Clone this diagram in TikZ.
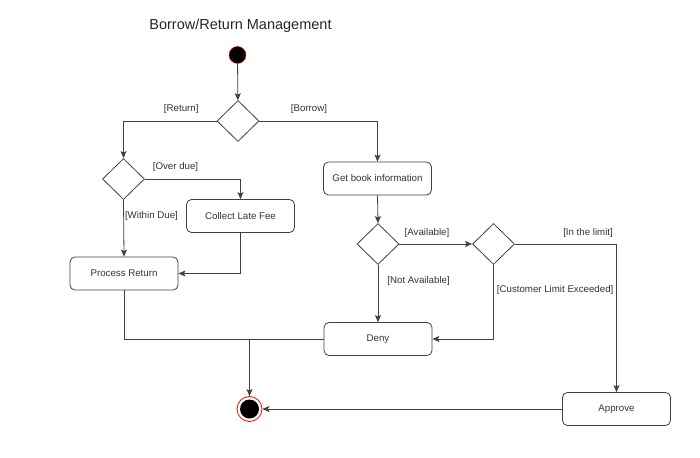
\documentclass[tikz,border=0pt]{standalone}
\usepackage{fontspec}
\setmainfont{Liberation Sans}
\usetikzlibrary{shapes.geometric,arrows.meta}
\tikzset{
  act/.style={draw=black!75, line width=0.8pt, rounded corners=5pt, minimum width=108pt, minimum height=33pt, font=\fontsize{9.7}{12}\selectfont, text=black!80},
  dec/.style={draw=black!75, line width=0.8pt, diamond, inner sep=0pt, minimum width=42pt, minimum height=41pt},
  guard/.style={font=\fontsize{9.7}{12}\selectfont, text=black!80, inner sep=1pt},
  flow/.style={draw=black!75, line width=0.8pt, -{Stealth[length=7pt,width=6pt,inset=1.5pt]}},
  link/.style={draw=black!75, line width=0.8pt}
}
\begin{document}
\begin{tikzpicture}[x=1pt,y=-1pt]
\useasboundingbox (0,0) rectangle (700,457);
\node[font=\fontsize{14.5}{17}\selectfont, text=black!85] (title) at (240.5,26) {Borrow/Return Management};
\node[circle, fill=black, draw=red, minimum size=17pt, inner sep=0pt] (start) at (237.5,55) {};
\node[dec] (choice) at (238,121) {};
\node[dec] (due) at (123.5,179) {};
\node[act] (fee) at (240.5,216) {Collect Late Fee};
\node[act] (ret) at (124,273.5) {Process Return};
\node[act] (info) at (377.5,178.5) {Get book information};
\node[dec] (avail) at (378,244) {};
\node[dec] (limit) at (493.5,244) {};
\node[act] (deny) at (378,339) {Deny};
\node[act] (ok) at (616.5,409) {Approve};
\node[circle, draw=red, fill=white, line width=0.8pt, minimum size=25pt, inner sep=0pt,
  path picture={\fill[black] (path picture bounding box.center) circle (9.5pt);}] (stop) at (249.5,409) {};
\coordinate (join) at (stop |- deny.west);
\draw[flow] (start) -- (choice);
\draw[flow] (choice.west) -| node[guard, pos=0.19, above=6pt] {[Return]} (due.north);
\draw[flow] (choice.east) -| node[guard, pos=0.21, above=6pt] {[Borrow]} (info.north);
\draw[flow] (due.east) -| node[guard, pos=0.16, above=6pt] {[Over due]} (fee.north);
\draw[flow] (due.south) -- node[guard, pos=0.28, right] {[Within Due]} (ret.north);
\draw[flow] (fee.south) |- (ret.east);
\draw[flow] (info.south) -- (avail.north);
\draw[flow] (avail.east) -- node[guard, pos=0.38, above=5pt] {[Available]} (limit.west);
\draw[flow] (avail.south) -- node[guard, pos=0.29, right=8pt] {[Not Available]} (deny.north);
\draw[flow] (limit.east) -| node[guard, pos=0.36, above=5pt] {[In the limit]} (ok.north);
\draw[flow] (limit.south) |- node[guard, pos=0.17, right=2pt] {[Customer Limit Exceeded]} (deny.east);
\draw[link] (ret.south) |- (join);
\draw[link] (deny.west) -- (join);
\draw[flow] (join) -- (stop.north);
\draw[flow] (ok.west) -- (stop.east);
\end{tikzpicture}
\end{document}
